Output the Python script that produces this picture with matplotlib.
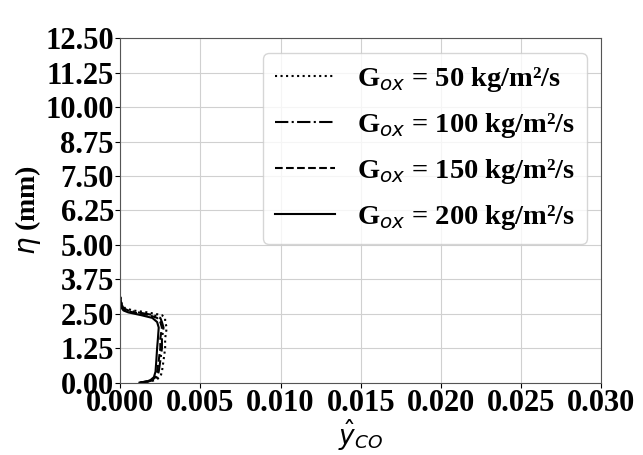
import matplotlib
matplotlib.use("Agg")
import matplotlib.pyplot as plt

# wall-normal coordinate (mm) and CO mass fraction profiles
eta = [0.0, 0.05, 0.1, 0.2, 0.4, 0.8, 1.25, 1.6, 2.0, 2.2, 2.35, 2.45, 2.55, 2.62, 2.7, 2.85, 3.0, 3.1]
y_co_50 = [0.0013, 0.0019, 0.0022, 0.0025, 0.0026, 0.0027, 0.0028, 0.0028, 0.0029, 0.0028, 0.0028, 0.0026, 0.0017, 0.0008, 0.0003, 0.0001, 0.00004, 0.0]
y_co_100 = [0.00125, 0.0018, 0.0021, 0.0023, 0.0024, 0.0025, 0.0026, 0.0026, 0.0027, 0.0026, 0.0025, 0.0021, 0.0011, 0.0005, 0.0002, 0.00008, 0.00003, 0.0]
y_co_150 = [0.0012, 0.0017, 0.0020, 0.0022, 0.0023, 0.0024, 0.0025, 0.0025, 0.0026, 0.0025, 0.0023, 0.0018, 0.0008, 0.0003, 0.00015, 0.00006, 0.00002, 0.0]
y_co_200 = [0.0012, 0.0017, 0.0019, 0.0021, 0.0022, 0.00225, 0.0023, 0.00235, 0.0024, 0.0023, 0.0020, 0.0013, 0.0005, 0.0002, 0.0001, 0.00005, 0.00002, 0.0]

labels = ["50", "100", "150", "200"]
styles = [":", "-.", "--", "-"]
yticks = [0.0, 1.25, 2.5, 3.75, 5.0, 6.25, 7.5, 8.75, 10.0, 11.25, 12.5]
xticks = [0.0, 0.005, 0.01, 0.015, 0.02, 0.025, 0.03]

plt.rcParams["font.family"] = ["Liberation Serif", "DejaVu Sans"]
plt.rcParams["font.weight"] = "normal"

fig = plt.figure(figsize=(6.43, 4.55), dpi=100)
ax = fig.add_axes([0.187, 0.159, 0.748, 0.757])

for xs, lab, ls in zip([y_co_50, y_co_100, y_co_150, y_co_200], labels, styles):
    ax.plot(xs, eta, color="black", linestyle=ls, linewidth=1.5,
            label="G$_{ox}$ = " + lab + " kg/m²/s")

ax.set_xlim(0, 0.03)
ax.set_ylim(0, 12.5)
ax.set_xticks(xticks)
ax.set_yticks(yticks)
ax.set_xticklabels(["%.3f" % v for v in xticks], fontsize=22, fontweight="bold")
ax.set_yticklabels(["%.2f" % v for v in yticks], fontsize=22, fontweight="bold")
ax.tick_params(pad=1)
ax.grid(True, color="#d0d0d0", linewidth=0.8)
for s in ax.spines.values():
    s.set_color("#555555")

ax.set_xlabel(r"$\hat{y}_{CO}$", fontsize=19, labelpad=0)
ax.set_ylabel(r"$\eta$ (mm)", fontsize=20, fontweight="bold", labelpad=2)

ax.legend(loc="upper right", handlelength=2.1, borderpad=0.4,
          labelspacing=0.6, bbox_to_anchor=(1.0, 0.997),
          prop={"family": ["Liberation Serif", "DejaVu Sans"], "weight": "bold", "size": 20.5})

fig.savefig("out.png", dpi=100)
